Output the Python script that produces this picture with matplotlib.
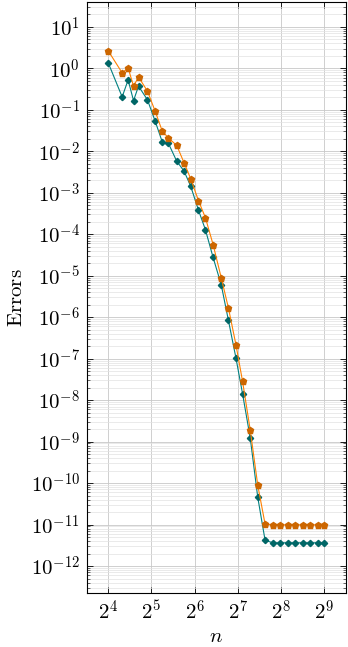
import matplotlib
matplotlib.use("Agg")
import matplotlib.pyplot as plt
import numpy as np
from matplotlib.ticker import LogLocator, FixedLocator, NullLocator, FuncFormatter, NullFormatter

plt.rcParams['mathtext.fontset'] = 'cm'
plt.rcParams['font.family'] = ['DejaVu Serif']

n = [16, 20, 22, 24, 26, 30, 34, 38, 42, 48, 54, 60, 68, 76, 86, 98, 110, 124,
     138, 156, 176, 198, 224, 252, 284, 320, 362, 408, 462, 512]

log_err_orange = [0.42, -0.11, 0.01, -0.43, -0.21, -0.55, -1.04, -1.51,
                  -1.68, -1.86, -2.28, -2.66, -3.19, -3.60, -4.25, -5.05,
                  -5.78, -6.66, -7.55, -8.72, -10.05, -10.99, -11.01,
                  -11.01, -11.01, -11.01, -11.01, -11.01, -11.01, -11.01]

log_err_teal = [0.13, -0.69, -0.28, -0.78, -0.43, -0.76, -1.28, -1.77,
                -1.81, -2.24, -2.48, -2.84, -3.42, -3.89, -4.56, -5.22,
                -6.08, -6.98, -7.85, -8.91, -10.34, -11.38, -11.44,
                -11.44, -11.44, -11.44, -11.44, -11.44, -11.44, -11.44]

err_orange = [10 ** v for v in log_err_orange]
err_teal = [10 ** v for v in log_err_teal]

x_tick_exps = [4, 5, 6, 7, 8, 9]
y_tick_exps = list(range(-12, 2))

fig = plt.figure(figsize=(3.48, 6.47), dpi=100)
ax = fig.add_axes([0.249, 0.0835, 0.745, 0.9135])

ax.plot(n, err_teal, color='#008080', lw=0.8, marker='D', markersize=3.2,
        markerfacecolor='#006666', markeredgecolor='#006666', zorder=3)
ax.plot(n, err_orange, color='#FF8000', lw=0.8, marker='p', markersize=5.0,
        markerfacecolor='#CC6600', markeredgecolor='#CC6600', zorder=3)

ax.set_xscale('log', base=2)
ax.set_yscale('log')
ax.set_xlim(2 ** 3.5, 2 ** 9.5)
ax.set_ylim(10 ** -12.65, 10 ** 1.6)

ax.xaxis.set_major_locator(FixedLocator([2 ** e for e in x_tick_exps]))
ax.xaxis.set_minor_locator(NullLocator())
ax.xaxis.set_major_formatter(FuncFormatter(lambda v, p: r'$2^{%d}$' % round(np.log2(v))))
ax.xaxis.set_minor_formatter(NullFormatter())

ax.yaxis.set_major_locator(FixedLocator([10.0 ** e for e in y_tick_exps]))
ax.yaxis.set_minor_locator(FixedLocator([m * 10.0 ** e for e in range(-13, 2) for m in range(2, 10)
                                         if 10 ** -12.65 < m * 10.0 ** e < 10 ** 1.6]))
ax.yaxis.set_major_formatter(FuncFormatter(lambda v, p: r'$10^{%d}$' % round(np.log10(v))))
ax.yaxis.set_minor_formatter(NullFormatter())
ax.xaxis.get_offset_text().set_visible(False)
ax.yaxis.get_offset_text().set_visible(False)

ax.grid(True, which='major', color='#c8c8c8', lw=0.6)
ax.grid(True, which='minor', axis='y', color='#e2e2e2', lw=0.5)
ax.set_axisbelow(True)

ax.tick_params(which='both', direction='in', top=True, right=True, labelsize=15)
ax.tick_params(which='major', length=4, width=0.6, pad=5)
ax.tick_params(which='minor', length=2, width=0.4)
for s in ax.spines.values():
    s.set_linewidth(0.8)

ax.set_xlabel(r'$n$', fontsize=15, labelpad=2)
ax.set_ylabel(r'$\mathrm{Errors}$', fontsize=15, labelpad=3)

fig.savefig('out.png', dpi=100)
